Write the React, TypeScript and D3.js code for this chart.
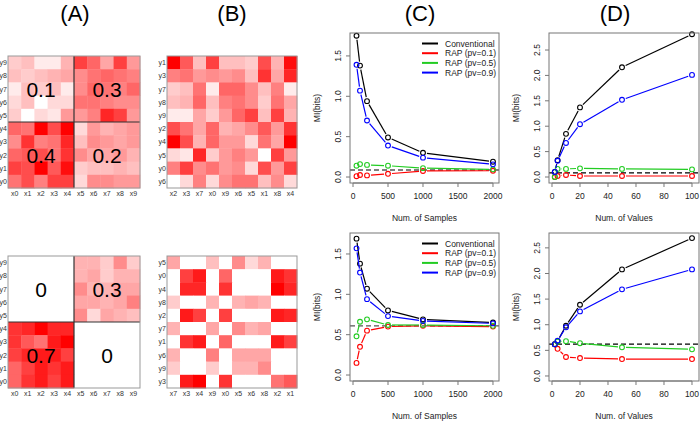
import React, { useEffect, useRef } from "react";
import * as d3 from "d3";

// heatmap intensities (0 = white, 1 = red); rows listed y9 -> y0, columns x0 -> x9
const topMatrix = [
  [0.2, 0.25, 0.08, 0.08, 0.3, 0.75, 0.6, 0.35, 0.75, 0.4],
  [0.25, 0.2, 0.25, 0.3, 0.35, 0.45, 0.55, 0.6, 0.55, 0.5],
  [0.08, 0.25, 0.2, 0.25, 0.08, 0.45, 0.6, 0.55, 0.5, 0.6],
  [0.15, 0.25, 0.0, 0.15, 0.15, 0.55, 0.55, 0.5, 0.45, 0.45],
  [0.2, 0.0, 0.15, 0.1, 0.4, 0.4, 0.5, 0.85, 0.75, 0.4],
  [0.6, 0.55, 1.0, 0.7, 1.0, 0.15, 0.4, 0.3, 0.35, 0.4],
  [0.45, 0.8, 0.5, 0.55, 0.85, 0.25, 0.45, 0.4, 0.35, 0.4],
  [0.6, 0.65, 0.7, 0.55, 0.8, 0.45, 0.35, 0.35, 0.4, 0.3],
  [0.75, 0.7, 1.0, 0.65, 0.95, 0.2, 0.25, 0.25, 0.3, 0.25],
  [0.55, 0.7, 0.5, 0.75, 0.75, 0.15, 0.45, 0.45, 0.4, 0.4],
];

const bottomMatrix = [
  [0, 0, 0, 0, 0, 0.3, 0.3, 0.2, 0.45, 0.2],
  [0, 0, 0, 0, 0, 0.3, 0.35, 0.2, 0.3, 0.3],
  [0, 0, 0, 0, 0, 0.45, 0.3, 0.3, 0.35, 0.35],
  [0, 0, 0, 0, 0, 0.35, 0.35, 0.3, 0.35, 0.5],
  [0, 0, 0, 0, 0, 0.45, 0.15, 0.35, 0.3, 0.25],
  [0.8, 0.85, 1.0, 0.85, 0.85, 0, 0, 0, 0, 0],
  [0.8, 0.65, 0.55, 0.9, 1.0, 0, 0, 0, 0, 0],
  [0.75, 0.85, 0.9, 0.9, 0.75, 0, 0, 0, 0, 0],
  [0.6, 0.75, 0.9, 0.8, 0.9, 0, 0, 0, 0, 0],
  [0.6, 0.8, 0.9, 0.75, 0.9, 0, 0, 0, 0, 0],
];

// row / column orders (index = variable number)
const orderedRows = [9, 8, 7, 6, 5, 4, 3, 2, 1, 0];
const orderedCols = [0, 1, 2, 3, 4, 5, 6, 7, 8, 9];
const shuffledTopRows = [1, 3, 7, 8, 9, 2, 4, 5, 0, 6];
const shuffledTopCols = [2, 3, 7, 0, 9, 6, 5, 1, 8, 4];
const shuffledBottomRows = [5, 0, 4, 8, 2, 7, 1, 6, 9, 3];
const shuffledBottomCols = [7, 3, 4, 9, 0, 5, 6, 8, 2, 1];

const topBlockLabels = ["0.1", "0.3", "0.4", "0.2"];
const bottomBlockLabels = ["0", "0.3", "0.7", "0"];

// panel C: MI vs number of samples
const sampleSizes = [50, 100, 200, 500, 1000, 2000];
const cTopConv = [1.75, 1.38, 0.94, 0.49, 0.3, 0.19];
const cTopRap01 = [0.01, 0.025, 0.02, 0.04, 0.075, 0.078];
const cTopRap05 = [0.14, 0.16, 0.15, 0.14, 0.11, 0.095];
const cTopRap09 = [1.39, 1.07, 0.7, 0.39, 0.24, 0.157];
const cTopTrue = 0.087;
const cBotConv = [1.69, 1.38, 1.07, 0.8, 0.69, 0.65];
const cBotRap01 = [0.15, 0.35, 0.55, 0.6, 0.61, 0.6];
const cBotRap05 = [0.48, 0.66, 0.69, 0.62, 0.62, 0.61];
const cBotRap09 = [1.57, 1.27, 0.94, 0.73, 0.67, 0.64];
const cBotTrue = 0.61;

// panel D: MI vs number of values
const valueCounts = [2, 4, 10, 20, 50, 100];
const dTopConv = [0.1, 0.33, 0.85, 1.37, 2.16, 2.81];
const dTopRap01 = [0.0, 0.02, 0.04, 0.02, 0.02, 0.02];
const dTopRap05 = [0.0, 0.16, 0.16, 0.17, 0.16, 0.15];
const dTopRap09 = [0.1, 0.32, 0.67, 1.04, 1.52, 2.01];
const dTopTrue = 0.08;
const dBotConv = [0.62, 0.68, 0.98, 1.39, 2.08, 2.69];
const dBotRap01 = [0.62, 0.53, 0.37, 0.35, 0.33, 0.33];
const dBotRap05 = [0.62, 0.67, 0.68, 0.64, 0.56, 0.52];
const dBotRap09 = [0.62, 0.69, 0.95, 1.26, 1.69, 2.08];
const dBotTrue = 0.62;

const seriesNames = ["Conventional", "RAP (pv=0.1)", "RAP (pv=0.5)", "RAP (pv=0.9)"];
const seriesColors = ["#000000", "#ff0000", "#22cc22", "#0000ff"];

const cXTicks = [0, 500, 1000, 1500, 2000];
const cYTicks = [0, 0.5, 1.0, 1.5];
const dXTicks = [0, 20, 40, 60, 80, 100];
const dYTicks = [0, 0.5, 1.0, 1.5, 2.0, 2.5];

const FONT = "'Liberation Sans', Arial, sans-serif";

type Box = { x: number; y: number; w: number; h: number };

function drawHeatmap(svg: any, matrix: number[][], rows: number[], cols: number[], box: Box, blockLabels?: string[]) {
  const g = svg.append("g");
  const x = d3.scaleBand<number>().domain(cols).range([box.x, box.x + box.w]);
  const y = d3.scaleBand<number>().domain(rows).range([box.y, box.y + box.h]);
  const color = d3.interpolateRgb("#ffffff", "#ff0000");

  rows.forEach((r) => {
    cols.forEach((c) => {
      g.append("rect")
        .attr("x", x(c))
        .attr("y", y(r))
        .attr("width", x.bandwidth() + 0.4)
        .attr("height", y.bandwidth() + 0.4)
        .attr("fill", color(matrix[9 - r][c]));
    });
  });

  // block dividers + numbers (only for ordered panels)
  if (blockLabels) {
    const mx = box.x + box.w / 2;
    const my = box.y + box.h / 2;
    g.append("line").attr("x1", mx).attr("x2", mx).attr("y1", box.y).attr("y2", box.y + box.h).attr("stroke", "#333").attr("stroke-width", 1.2);
    g.append("line").attr("x1", box.x).attr("x2", box.x + box.w).attr("y1", my).attr("y2", my).attr("stroke", "#333").attr("stroke-width", 1.2);
    const centers = [
      [box.x + box.w / 4, box.y + box.h / 4],
      [box.x + (3 * box.w) / 4, box.y + box.h / 4],
      [box.x + box.w / 4, box.y + (3 * box.h) / 4],
      [box.x + (3 * box.w) / 4, box.y + (3 * box.h) / 4],
    ];
    blockLabels.forEach((t, i) => {
      g.append("text")
        .attr("x", centers[i][0])
        .attr("y", centers[i][1] + 7.5)
        .attr("text-anchor", "middle")
        .style("font-family", FONT)
        .style("font-size", "21px")
        .attr("fill", "#000")
        .text(t);
    });
  }

  g.append("rect")
    .attr("x", box.x)
    .attr("y", box.y)
    .attr("width", box.w)
    .attr("height", box.h)
    .attr("fill", "none")
    .attr("stroke", "#999")
    .attr("stroke-width", 1);

  // axis labels
  rows.forEach((r) => {
    g.append("text")
      .attr("x", box.x - 1)
      .attr("y", (y(r) as number) + y.bandwidth() / 2 + 2.5)
      .attr("text-anchor", "end")
      .style("font-family", FONT)
      .style("font-size", "7px")
      .attr("fill", "#333")
      .text(`y${r}`);
  });
  cols.forEach((c) => {
    g.append("text")
      .attr("x", (x(c) as number) + x.bandwidth() / 2)
      .attr("y", box.y + box.h + 8)
      .attr("text-anchor", "middle")
      .style("font-family", FONT)
      .style("font-size", "7px")
      .attr("fill", "#333")
      .text(`x${c}`);
  });
}

type Panel = {
  box: Box;
  xDomain: [number, number];
  yDomain: [number, number];
  xs: number[];
  series: number[][];
  trueValue: number;
  dashColor: string;
  xTicks: number[];
  yTicks: number[];
  xLabel: string;
  legend: boolean;
};

function drawLinePanel(svg: any, p: Panel) {
  const { box } = p;
  const g = svg.append("g");
  const x = d3.scaleLinear().domain(p.xDomain).range([box.x, box.x + box.w]);
  const y = d3.scaleLinear().domain(p.yDomain).range([box.y + box.h, box.y]);
  const r = 2.4;
  const gap = 4;

  // true MI reference
  g.append("line")
    .attr("x1", box.x)
    .attr("x2", box.x + box.w)
    .attr("y1", y(p.trueValue))
    .attr("y2", y(p.trueValue))
    .attr("stroke", p.dashColor)
    .attr("stroke-width", 1.3)
    .attr("stroke-dasharray", "5,3");

  p.series.forEach((vals, si) => {
    const pts = vals.map((v, i) => [x(p.xs[i]), y(v)]);
    // type = "b": segments with gaps around the points
    for (let i = 0; i < pts.length - 1; i++) {
      const [x1, y1] = pts[i];
      const [x2, y2] = pts[i + 1];
      const d = Math.hypot(x2 - x1, y2 - y1);
      if (d <= 2 * gap) continue;
      const ux = (x2 - x1) / d;
      const uy = (y2 - y1) / d;
      g.append("line")
        .attr("x1", x1 + ux * gap)
        .attr("y1", y1 + uy * gap)
        .attr("x2", x2 - ux * gap)
        .attr("y2", y2 - uy * gap)
        .attr("stroke", seriesColors[si])
        .attr("stroke-width", 1.2);
    }
    g.selectAll(null)
      .data(pts)
      .enter()
      .append("circle")
      .attr("cx", (d: number[]) => d[0])
      .attr("cy", (d: number[]) => d[1])
      .attr("r", r)
      .attr("fill", "none")
      .attr("stroke", seriesColors[si])
      .attr("stroke-width", 1.1);
  });

  g.append("rect")
    .attr("x", box.x)
    .attr("y", box.y)
    .attr("width", box.w)
    .attr("height", box.h)
    .attr("fill", "none")
    .attr("stroke", "#777")
    .attr("stroke-width", 1);

  // x axis
  const bottom = box.y + box.h;
  g.append("line")
    .attr("x1", x(p.xTicks[0]))
    .attr("x2", x(p.xTicks[p.xTicks.length - 1]))
    .attr("y1", bottom)
    .attr("y2", bottom)
    .attr("stroke", "#777");
  p.xTicks.forEach((t) => {
    g.append("line").attr("x1", x(t)).attr("x2", x(t)).attr("y1", bottom).attr("y2", bottom + 4).attr("stroke", "#777");
    g.append("text")
      .attr("x", x(t))
      .attr("y", bottom + 16)
      .attr("text-anchor", "middle")
      .style("font-family", FONT)
      .style("font-size", "8.5px")
      .attr("fill", "#222")
      .text(String(t));
  });
  g.append("text")
    .attr("x", box.x + box.w / 2)
    .attr("y", bottom + 38)
    .attr("text-anchor", "middle")
    .style("font-family", FONT)
    .style("font-size", "8.5px")
    .attr("fill", "#222")
    .text(p.xLabel);

  // y axis
  p.yTicks.forEach((t) => {
    g.append("line").attr("x1", box.x - 4).attr("x2", box.x).attr("y1", y(t)).attr("y2", y(t)).attr("stroke", "#777");
    g.append("text")
      .attr("transform", `translate(${box.x - 9},${y(t)}) rotate(-90)`)
      .attr("text-anchor", "middle")
      .style("font-family", FONT)
      .style("font-size", "8.5px")
      .attr("fill", "#222")
      .text(t.toFixed(1));
  });
  g.append("text")
    .attr("transform", `translate(${box.x - 30},${box.y + box.h / 2}) rotate(-90)`)
    .attr("text-anchor", "middle")
    .style("font-family", FONT)
    .style("font-size", "8.5px")
    .attr("fill", "#222")
    .text("MI(bits)");

  if (p.legend) {
    seriesNames.forEach((name, i) => {
      const ly = box.y + 10.5 + i * 9.7;
      g.append("line")
        .attr("x1", box.x + 72)
        .attr("x2", box.x + 88)
        .attr("y1", ly)
        .attr("y2", ly)
        .attr("stroke", seriesColors[i])
        .attr("stroke-width", 2);
      g.append("text")
        .attr("x", box.x + 95)
        .attr("y", ly + 3)
        .style("font-family", FONT)
        .style("font-size", "8.5px")
        .attr("fill", "#222")
        .text(name);
    });
  }
}

const App = () => {
  const svgRef = useRef<SVGSVGElement>(null);

  useEffect(() => {
    const svg = d3.select(svgRef.current);
    svg.selectAll("*").remove();

    svg.append("rect").attr("width", 700).attr("height", 422).attr("fill", "#fff");

    // panel titles
    [["(A)", 75], ["(B)", 232], ["(C)", 420], ["(D)", 615]].forEach(([t, cx]) => {
      svg
        .append("text")
        .attr("x", cx as number)
        .attr("y", 21)
        .attr("text-anchor", "middle")
        .style("font-family", FONT)
        .style("font-size", "22px")
        .attr("fill", "#000")
        .text(t as string);
    });

    drawHeatmap(svg, topMatrix, orderedRows, orderedCols, { x: 8, y: 56, w: 132, h: 132 }, topBlockLabels);
    drawHeatmap(svg, topMatrix, shuffledTopRows, shuffledTopCols, { x: 167, y: 56, w: 130, h: 132 });
    drawHeatmap(svg, bottomMatrix, orderedRows, orderedCols, { x: 8, y: 256, w: 132, h: 132 }, bottomBlockLabels);
    drawHeatmap(svg, bottomMatrix, shuffledBottomRows, shuffledBottomCols, { x: 167, y: 256, w: 130, h: 132 });

    drawLinePanel(svg, {
      box: { x: 350, y: 33, w: 149, h: 150 },
      xDomain: [-43, 2086],
      yDomain: [-0.074, 1.784],
      xs: sampleSizes,
      series: [cTopConv, cTopRap01, cTopRap05, cTopRap09],
      trueValue: cTopTrue,
      dashColor: "#555",
      xTicks: cXTicks,
      yTicks: cYTicks,
      xLabel: "Num. of Samples",
      legend: true,
    });
    drawLinePanel(svg, {
      box: { x: 350, y: 233, w: 149, h: 148 },
      xDomain: [-43, 2086],
      yDomain: [-0.074, 1.76],
      xs: sampleSizes,
      series: [cBotConv, cBotRap01, cBotRap05, cBotRap09],
      trueValue: cBotTrue,
      dashColor: "#555",
      xTicks: cXTicks,
      yTicks: cYTicks,
      xLabel: "Num. of Samples",
      legend: true,
    });
    drawLinePanel(svg, {
      box: { x: 549, y: 33, w: 150, h: 150 },
      xDomain: [-2.14, 105],
      yDomain: [-0.118, 2.835],
      xs: valueCounts,
      series: [dTopConv, dTopRap01, dTopRap05, dTopRap09],
      trueValue: dTopTrue,
      dashColor: "#000",
      xTicks: dXTicks,
      yTicks: dYTicks,
      xLabel: "Num. of Values",
      legend: false,
    });
    drawLinePanel(svg, {
      box: { x: 549, y: 233, w: 150, h: 148 },
      xDomain: [-2.14, 105],
      yDomain: [-0.098, 2.79],
      xs: valueCounts,
      series: [dBotConv, dBotRap01, dBotRap05, dBotRap09],
      trueValue: dBotTrue,
      dashColor: "#000",
      xTicks: dXTicks,
      yTicks: dYTicks,
      xLabel: "Num. of Values",
      legend: false,
    });
  }, []);

  return (
    <div style={{ position: "absolute", left: 0, top: 0 }}>
      <svg ref={svgRef} width={700} height={422} style={{ display: "block" }}></svg>
    </div>
  );
};

export default App;
